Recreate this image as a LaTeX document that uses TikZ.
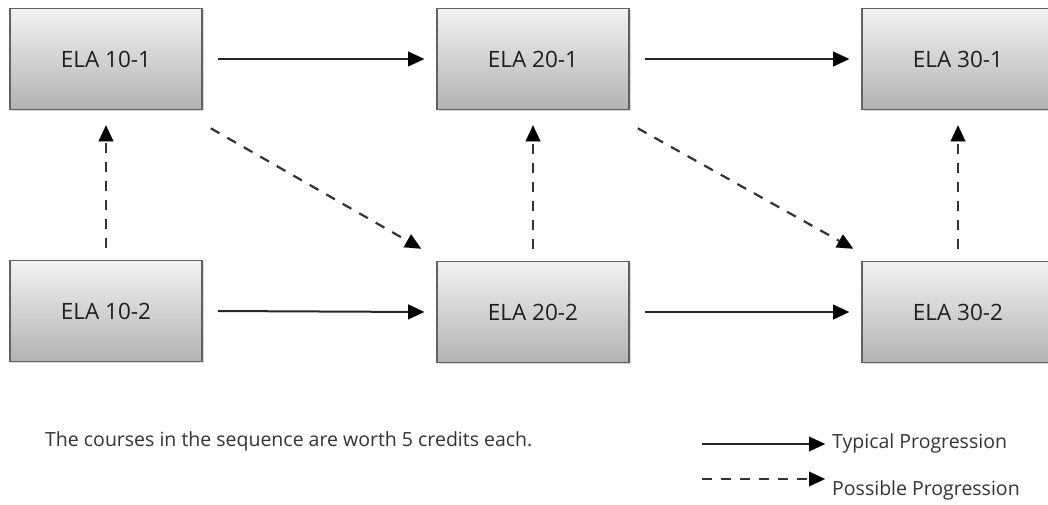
\documentclass[tikz,border=0pt]{standalone}
\usepackage{fontspec}
\setmainfont{Open Sans}
\usetikzlibrary{arrows.meta,shadows}
\begin{document}
\begin{tikzpicture}[x=1pt,y=-1pt,
  course/.style={draw=black!62,line width=1.6pt,minimum width=192pt,minimum height=101pt,
    top color=black!5,bottom color=black!30,font=\fontsize{22.5}{26}\selectfont,text=black!88,
    drop shadow={shadow xshift=1.5pt,shadow yshift=-1.5pt,opacity=0.3}},
  typarrow/.style={line width=2pt,draw=black!85,-{Triangle[length=16pt,width=15pt,fill=black,line width=0.01pt]}},
  posarrow/.style={line width=2.2pt,draw=black!80,dash pattern=on 10pt off 9pt,-{Triangle[length=16pt,width=15pt,fill=black,line width=0.01pt]}},
  lbl/.style={font=\fontsize{19.5}{23}\selectfont,anchor=west,text=black!80,inner sep=0pt}]
\useasboundingbox (0,0) rectangle (1048,504);
\node[course] (a1) at (106,59) {ELA 10-1};
\node[course] (b1) at (533,59) {ELA 20-1};
\node[course] (c1) at (958,59) {ELA 30-1};
\node[course] (a2) at (106,311) {ELA 10-2};
\node[course] (b2) at (533,312) {ELA 20-2};
\node[course] (c2) at (958,312) {ELA 30-2};
\draw[typarrow] ([xshift=15pt]a1.east) -- ([xshift=-12pt]b1.west);
\draw[typarrow] ([xshift=15pt]b1.east) -- ([xshift=-12pt]c1.west);
\draw[typarrow] ([xshift=15pt]a2.east) -- ([xshift=-12pt]b2.west);
\draw[typarrow] ([xshift=15pt]b2.east) -- ([xshift=-12pt]c2.west);
\draw[posarrow] ([yshift=12pt]a2.north) -- ([yshift=-15pt]a1.south);
\draw[posarrow] ([yshift=12pt]b2.north) -- ([yshift=-15pt]b1.south);
\draw[posarrow] ([yshift=12pt]c2.north) -- ([yshift=-15pt]c1.south);
\draw[posarrow] ([shift={(8pt,-18pt)}]a1.south east) -- ([shift={(-15pt,12pt)}]b2.north west);
\draw[posarrow] ([shift={(8pt,-18pt)}]b1.south east) -- ([shift={(-8pt,12pt)}]c2.north west);
\node[lbl] (note) at (45,441) {The courses in the sequence are worth 5 credits each.};
\coordinate (l1s) at (702,444);
\coordinate (l1e) at (825,444);
\coordinate (l2s) at (702,479);
\coordinate (l2e) at (825,479);
\draw[typarrow] (l1s) -- (l1e);
\draw[posarrow] (l2s) -- (l2e);
\node[lbl] (t1) at (832,443) {Typical Progression};
\node[lbl] (t2) at (832,490) {Possible Progression};
\end{tikzpicture}
\end{document}
